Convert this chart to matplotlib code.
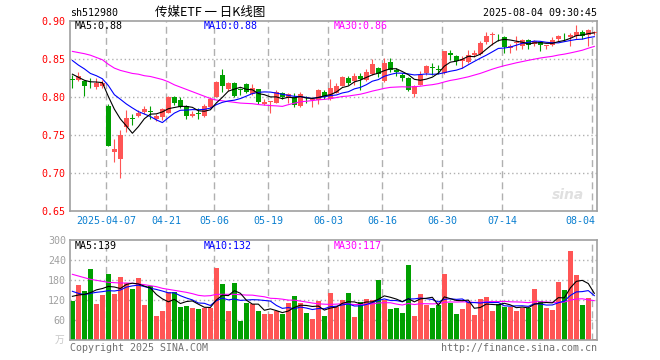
import numpy as np
import pandas as pd
import matplotlib
matplotlib.use('Agg')
import matplotlib.pyplot as plt

plt.rcParams['lines.scale_dashes'] = False

# 日K数据 2025-03-27 ~ 2025-08-04 (88个交易日)
open_ = [0.824, 0.823, 0.8215, 0.8145, 0.8136, 0.814, 0.788, 0.7276, 0.718, 0.760,
         0.7715, 0.775, 0.7807, 0.7805, 0.7706, 0.7741, 0.7794, 0.800, 0.796, 0.7882,
         0.775, 0.7785, 0.775, 0.7873, 0.8004, 0.8289, 0.8101, 0.8189, 0.8095, 0.8167,
         0.8039, 0.8105, 0.7912, 0.794, 0.7926, 0.8057, 0.7982, 0.8004, 0.7882, 0.7972,
         0.7957, 0.7957, 0.8066, 0.7969, 0.8057, 0.8145, 0.8246, 0.821, 0.8276, 0.8224,
         0.8303, 0.8377, 0.8215, 0.846, 0.836, 0.8285, 0.825, 0.8039, 0.8162, 0.8316,
         0.8385, 0.8362, 0.8316, 0.8579, 0.8535, 0.8478, 0.8456, 0.8548, 0.8566, 0.8724,
         0.8816, 0.8815, 0.879, 0.8645, 0.8715, 0.8667, 0.8754, 0.8697, 0.8724, 0.8673,
         0.868, 0.8768, 0.8815, 0.879, 0.8798, 0.8855, 0.882, 0.884]
high = [0.829, 0.8325, 0.822, 0.8254, 0.8254, 0.822, 0.791, 0.7452, 0.7566, 0.7829,
        0.7776, 0.7829, 0.7886, 0.7886, 0.7776, 0.785, 0.8013, 0.801, 0.7996, 0.7895,
        0.782, 0.785, 0.7903, 0.8004, 0.8215, 0.8368, 0.8202, 0.8202, 0.8114, 0.8189,
        0.8171, 0.8105, 0.797, 0.7948, 0.8092, 0.807, 0.8057, 0.8048, 0.8061, 0.8013,
        0.7991, 0.8101, 0.8092, 0.8232, 0.818, 0.8276, 0.8276, 0.832, 0.832, 0.8364,
        0.8496, 0.840, 0.8509, 0.8513, 0.8382, 0.8316, 0.8259, 0.8162, 0.8338, 0.8425,
        0.8447, 0.8425, 0.861, 0.8623, 0.8548, 0.8535, 0.8623, 0.8623, 0.8732, 0.8855,
        0.8855, 0.8829, 0.8798, 0.8697, 0.8798, 0.8768, 0.8768, 0.8754, 0.8732, 0.8689,
        0.8785, 0.882, 0.8842, 0.8842, 0.8943, 0.8886, 0.8899, 0.8875]
low = [0.812, 0.821, 0.8017, 0.8123, 0.8105, 0.812, 0.735, 0.7144, 0.693, 0.7544,
       0.7632, 0.7732, 0.7772, 0.771, 0.7688, 0.770, 0.7785, 0.7895, 0.785, 0.7706,
       0.7732, 0.7706, 0.7741, 0.785, 0.7996, 0.807, 0.8083, 0.7996, 0.8026, 0.8048,
       0.8026, 0.791, 0.7895, 0.7794, 0.7917, 0.797, 0.7926, 0.7873, 0.7873, 0.7917,
       0.7873, 0.791, 0.797, 0.7961, 0.8048, 0.814, 0.8158, 0.8158, 0.8092, 0.8215,
       0.829, 0.8268, 0.8202, 0.833, 0.8272, 0.8206, 0.8083, 0.7996, 0.8154, 0.8285,
       0.8285, 0.8303, 0.8303, 0.8491, 0.8425, 0.8382, 0.8447, 0.8522, 0.8557, 0.8697,
       0.8689, 0.8732, 0.8579, 0.8579, 0.8623, 0.8636, 0.8636, 0.8667, 0.861, 0.8636,
       0.8667, 0.8741, 0.8741, 0.8667, 0.8768, 0.8768, 0.8667, 0.882]
close = [0.823, 0.8276, 0.815, 0.814, 0.819, 0.819, 0.736, 0.7315, 0.750, 0.773,
         0.771, 0.7794, 0.7838, 0.780, 0.775, 0.7838, 0.8004, 0.7917, 0.7873, 0.775,
         0.7776, 0.778, 0.7882, 0.7969, 0.8202, 0.8145, 0.8189, 0.8013, 0.809, 0.807,
         0.8114, 0.7939, 0.7939, 0.7945, 0.807, 0.7996, 0.8035, 0.7895, 0.8039, 0.7968,
         0.7974, 0.8092, 0.8004, 0.8114, 0.8145, 0.8268, 0.8189, 0.8276, 0.8232, 0.8325,
         0.8434, 0.8303, 0.8443, 0.835, 0.8329, 0.825, 0.8096, 0.814, 0.8285, 0.8404,
         0.838, 0.8358, 0.8601, 0.8548, 0.8469, 0.8504, 0.8557, 0.8575, 0.8711, 0.8798,
         0.882, 0.881, 0.8654, 0.8667, 0.872, 0.8754, 0.8689, 0.8732, 0.868, 0.8676,
         0.8754, 0.8798, 0.881, 0.882, 0.8855, 0.8798, 0.8886, 0.886]
# 成交量(万)
volume = [116, 166, 148, 213, 109, 136, 198, 139, 190, 171,
          154, 187, 106, 163, 73, 88, 143, 143, 100, 103,
          97, 94, 97, 97, 216, 168, 88, 171, 58, 112,
          109, 88, 79, 79, 86, 79, 112, 133, 112, 82,
          64, 118, 73, 142, 98, 119, 142, 70, 115, 124,
          121, 181, 121, 94, 97, 82, 226, 73, 139, 106,
          97, 106, 199, 112, 79, 94, 115, 76, 124, 130,
          88, 109, 100, 100, 88, 97, 97, 154, 118, 97,
          91, 175, 151, 267, 196, 106, 127, 4]

# 均线窗口未满的前段
ma5_head = [0.830, 0.826, 0.822, 0.820]
ma10_head = [0.848, 0.842, 0.837, 0.831, 0.828, 0.824, 0.815, 0.803, 0.797]
ma30_head = [0.860, 0.8585, 0.857, 0.855, 0.852, 0.849, 0.843, 0.838, 0.835, 0.833,
             0.831, 0.830, 0.828, 0.827, 0.825, 0.823, 0.820, 0.816, 0.813, 0.810,
             0.807, 0.804, 0.801, 0.798, 0.796, 0.795, 0.794, 0.793, 0.792]
vma5_head = [131, 135, 137, 142]
vma10_head = [146, 140, 136, 140, 143, 145, 148, 147, 150]
vma30_head = [197, 192, 187, 182, 179, 176, 173, 172, 171, 171,
              170, 168, 166, 163, 160, 155, 152, 149, 146, 143,
              139, 134, 132, 133, 137, 137, 137, 137, 136]

tick_idx = [6, 16, 24, 33, 43, 52, 62, 72, 87]
tick_txt = ['2025-04-07', '04-21', '05-06', '05-19', '06-03', '06-16', '06-30', '07-14', '08-04']
price_ticks = [0.65, 0.70, 0.75, 0.80, 0.85, 0.90]
vol_ticks = [60, 120, 180, 240, 300]


def ma(vals, n, head):
    m = pd.Series(vals, dtype=float).rolling(n).mean().to_numpy()
    m[:n - 1] = head
    return m


UP = '#ff5555'
DOWN = '#00a000'
MONO = 'DejaVu Sans Mono'
GRID = '#b0b0b0'

o = np.array(open_); c = np.array(close); h = np.array(high); l = np.array(low)
v = np.array(volume, dtype=float)
x = np.arange(len(c))
up = c >= o
cols = np.where(up, UP, DOWN)

fig = plt.figure(figsize=(6.6, 3.6), dpi=100)
W, H = 660.0, 360.0
axp = fig.add_axes([70 / W, 1 - 211 / H, 527 / W, 190 / H])
axv = fig.add_axes([70 / W, 1 - 340 / H, 527 / W, 100 / H])

for ax in (axp, axv):
    ax.set_xlim(-0.4, 87.45)
    for s in ax.spines.values():
        s.set_color('#a0a0a0')
        s.set_linewidth(1.2)
    ax.set_xticks([])
    ax.tick_params(axis='y', length=0, pad=3)
    for t in tick_idx:
        ax.axvline(t - 0.33, color=GRID, lw=1, linestyle=(0, (5, 3)), zorder=0)

# 价格
axp.set_ylim(0.65, 0.90)
for p in price_ticks[1:-1]:
    axp.axhline(p, color=GRID, lw=1, linestyle=(0, (1, 2)), zorder=0)
axp.set_yticks(price_ticks)
axp.set_yticklabels(['%.2f' % p for p in price_ticks], color='#ff0000',
                    fontsize=7.2, family=MONO)
axp.vlines(x, l, h, colors=cols, lw=0.8, zorder=2)
body = np.maximum(np.abs(c - o), 0.0011)
axp.bar(x, body, bottom=np.minimum(o, c), width=0.8, color=cols, zorder=3)
axp.plot(x, ma(c, 30, ma30_head), color='#ff00ff', lw=0.8, zorder=4)
axp.plot(x, ma(c, 10, ma10_head), color='#0000ff', lw=0.8, zorder=4)
axp.plot(x, ma(c, 5, ma5_head), color='#000000', lw=0.8, zorder=4)

for t, s in zip(tick_idx, tick_txt):
    ha = 'right' if t == tick_idx[-1] else 'center'
    xx = t + 0.15 if ha == 'right' else t - 0.33
    axp.text(xx, -0.055, s, transform=axp.get_xaxis_transform(), ha=ha, va='center',
             color='#0a7fd0', fontsize=7.2, family=MONO)

axp.text(0.975, 0.085, 'sina', transform=axp.transAxes, ha='right', va='center',
         fontsize=10, style='italic', weight='bold', color='#e0e0e0', zorder=1)

# 成交量
axv.set_ylim(0, 300)
for p in vol_ticks[:-1]:
    axv.axhline(p, color=GRID, lw=1, linestyle=(0, (1, 2)), zorder=0)
axv.set_yticks(vol_ticks)
axv.set_yticklabels([str(t) for t in vol_ticks], color='#a0a0a0', fontsize=7.2, family=MONO)
axv.bar(x, v, width=0.83, color=cols, zorder=2)
axv.plot(x, ma(v, 30, vma30_head), color='#ff00ff', lw=0.8, zorder=4)
axv.plot(x, ma(v, 10, vma10_head), color='#0000ff', lw=0.8, zorder=4)
axv.plot(x, ma(v, 5, vma5_head), color='#000000', lw=0.8, zorder=4)


def ftext(px, py, s, **kw):
    fig.text(px / W, 1 - py / H, s, va='center', **kw)


ftext(70, 13, 'sh512980', fontsize=7.2, family=MONO, color='#000000')
ftext(210, 12, '传媒ETF 一 日K线图', ha='center', fontsize=9,
      family=['Noto Sans CJK SC', 'DejaVu Sans'], color='#000000')
ftext(597, 12.5, '2025-08-04 09:30:45', ha='right', fontsize=7.2, family=MONO, color='#000000')

ftext(75, 26, 'MA5:0.88', fontsize=7.2, family=MONO, color='#000000')
ftext(204, 26, 'MA10:0.88', fontsize=7.2, family=MONO, color='#0000ff')
ftext(334, 26, 'MA30:0.86', fontsize=7.2, family=MONO, color='#ff00ff')
ftext(75, 246, 'MA5:139', fontsize=7.2, family=MONO, color='#000000')
ftext(204, 246, 'MA10:132', fontsize=7.2, family=MONO, color='#0000ff')
ftext(334, 246, 'MA30:117', fontsize=7.2, family=MONO, color='#ff00ff')

ftext(64, 340, '万', ha='right', fontsize=7, family=['Noto Sans CJK SC', 'DejaVu Sans'],
      color='#c8c8c8')
ftext(70, 348, 'Copyright 2025 SINA.COM', fontsize=7.2, family=MONO, color='#707070')
ftext(597, 348, 'http://finance.sina.com.cn', ha='right', fontsize=7.2, family=MONO,
      color='#707070')

fig.savefig('out.png', dpi=100)
